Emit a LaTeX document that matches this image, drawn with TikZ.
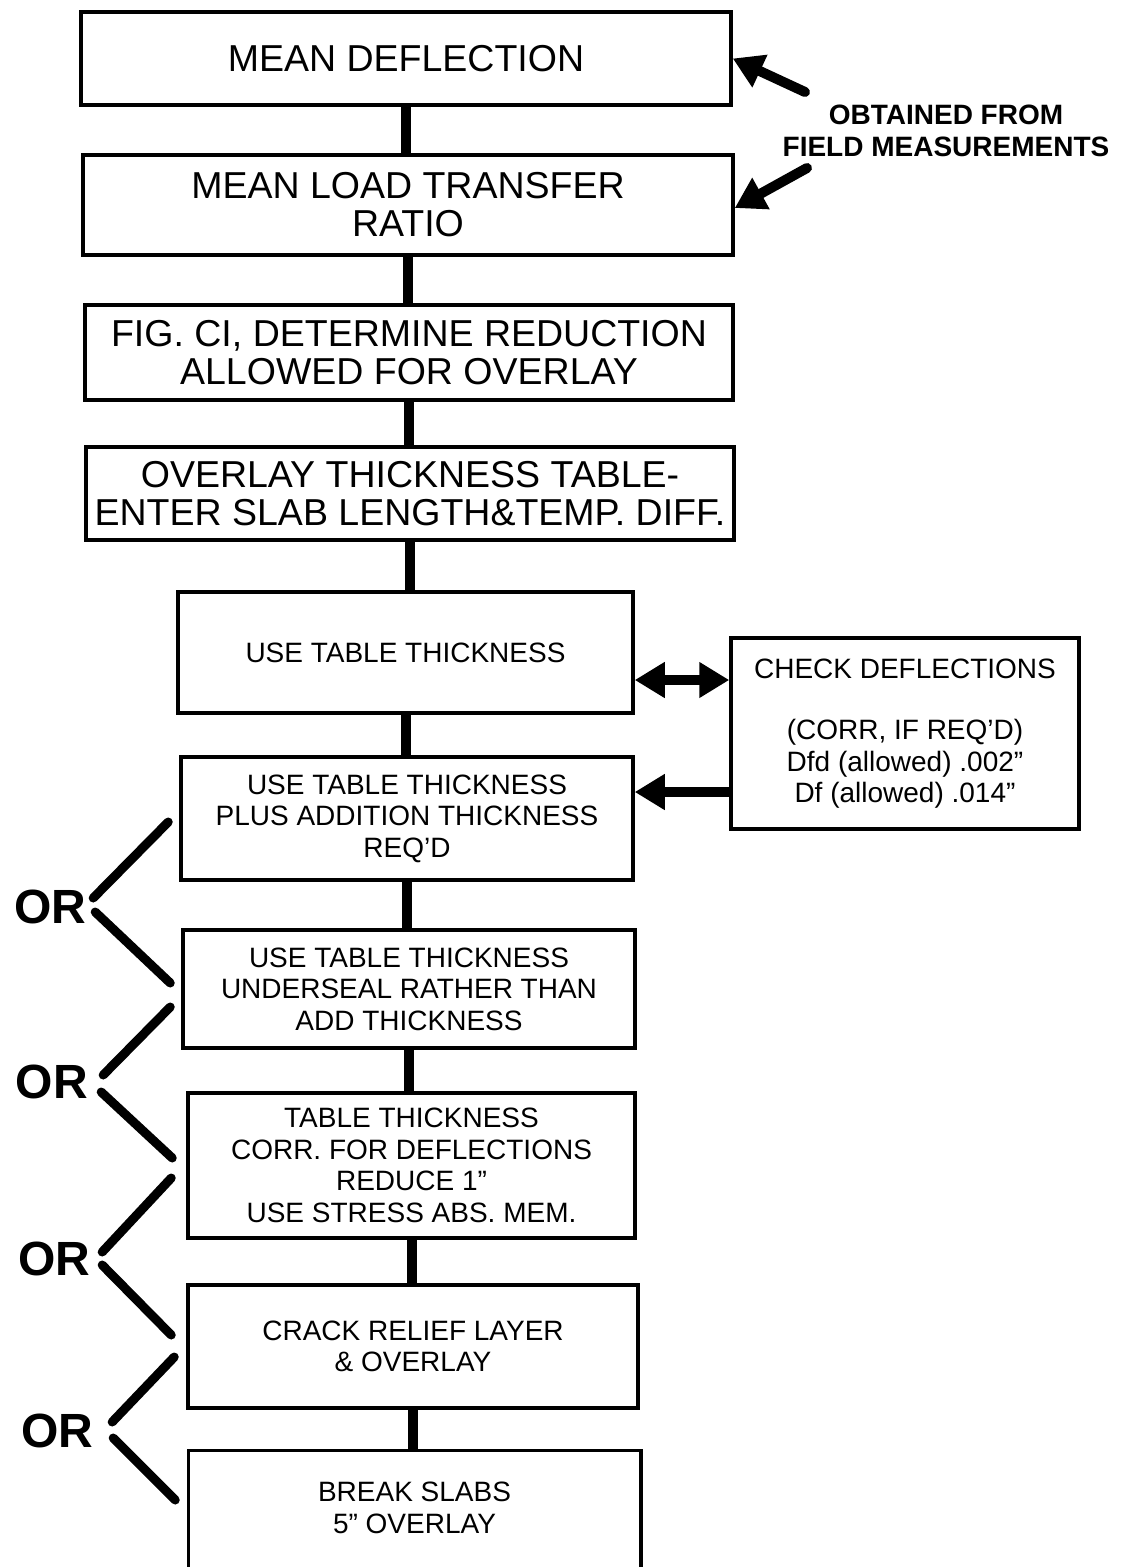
\documentclass[tikz,border=0pt]{standalone}
\usepackage{fontspec}
\setmainfont{Liberation Sans}
\usetikzlibrary{arrows.meta}

\begin{document}
\begin{tikzpicture}[x=1pt, y=-1pt]
    \tikzstyle{bigbox} = [rectangle, draw, line width=3.5pt, inner sep=0pt, align=center, font=\fontsize{37.5}{38}\selectfont]
    \tikzstyle{smallbox} = [rectangle, draw, line width=3.5pt, inner sep=0pt, align=center, font=\fontsize{28}{31.5}\selectfont]
    \tikzstyle{link} = [line width=10pt]
    \tikzstyle{arrow} = [line width=10pt, line cap=round, -{Triangle[length=30pt, width=34pt]}]
    \tikzstyle{twoway} = [line width=10pt, {Triangle[length=30pt, width=34pt]}-{Triangle[length=30pt, width=34pt]}]
    \tikzstyle{orline} = [line width=9pt, line cap=round]
    \tikzstyle{orlabel} = [inner sep=0pt, font=\fontsize{48}{48}\selectfont\bfseries]

    \useasboundingbox (0,0) rectangle (1129,1567);

    % main column
    \node [bigbox, minimum width=650pt, minimum height=93pt] (b1) at (406,58.5) {MEAN DEFLECTION};
    \node [bigbox, minimum width=650pt, minimum height=100pt] (b2) at (408,205) {MEAN LOAD TRANSFER\\RATIO};
    \node [bigbox, minimum width=648pt, minimum height=95pt] (b3) at (409,352.5) {FIG. CI, DETERMINE REDUCTION\\ALLOWED FOR OVERLAY};
    \node [bigbox, minimum width=648pt, minimum height=93pt] (b4) at (410,493.5) {OVERLAY THICKNESS TABLE-\\ENTER SLAB LENGTH\&TEMP. DIFF.};
    \node [smallbox, minimum width=455pt, minimum height=121pt] (b5) at (405.5,652.5) {USE TABLE THICKNESS};
    \node [smallbox, minimum width=452pt, minimum height=123pt] (b6) at (407,818.5) {USE TABLE THICKNESS\\PLUS ADDITION THICKNESS\\REQ'D};
    \node [smallbox, minimum width=452pt, minimum height=118pt] (b7) at (409,989) {USE TABLE THICKNESS\\UNDERSEAL RATHER THAN\\ADD THICKNESS};
    \node [smallbox, minimum width=447pt, minimum height=145pt] (b8) at (411.5,1165.5) {TABLE THICKNESS\\CORR. FOR DEFLECTIONS\\REDUCE 1''\\USE STRESS ABS. MEM.};
    \node [smallbox, minimum width=450pt, minimum height=123pt] (b9) at (413,1346.5) {CRACK RELIEF LAYER\\\& OVERLAY};
    \node [smallbox, draw=none, minimum width=449pt, minimum height=112pt] (b10) at (414.5,1508) {BREAK SLABS\\5'' OVERLAY};
    \draw [line width=3.5pt] ([yshift=-30pt]b10.south west) -- (b10.north west) -- (b10.north east) -- ([yshift=-30pt]b10.south east);

    \foreach \a/\b in {b1/b2, b2/b3, b3/b4, b4/b5, b5/b6, b6/b7, b7/b8, b8/b9, b9/b10}
        \draw [link] (\a.south) -- (\a.south |- \b.north);

    % field data
    \node [inner sep=0pt, align=center, font=\fontsize{28}{32}\selectfont\bfseries] (src) at (946,131) {OBTAINED FROM\\FIELD MEASUREMENTS};
    \coordinate (t1) at (805,92);
    \coordinate (t2) at (807,168);
    \draw [arrow] (t1) -- (b1.east);
    \draw [arrow] (t2) -- ([yshift=-3pt]b2.east);

    % deflection check
    \node [smallbox, minimum width=348pt, minimum height=191pt] (chk) at (905,733.5) {CHECK DEFLECTIONS\\[30pt](CORR, IF REQ'D)\\Dfd (allowed) .002''\\Df (allowed) .014''};
    \coordinate (d1) at (0,680);
    \coordinate (d2) at (0,792);
    \draw [twoway] (b5.east |- d1) -- (chk.west |- d1);
    \draw [line width=10pt, -{Triangle[length=30pt, width=34pt]}] (chk.west |- d2) -- (b6.east |- d2);

    % alternatives
    \node [orlabel] (or1) at (50,907) {OR};
    \node [orlabel] (or2) at (52,1082) {OR};
    \node [orlabel] (or3) at (54,1259) {OR};
    \node [orlabel] (or4) at (57,1431) {OR};
    \draw [orline] ([shift={(7,-9)}]or1.east) -- ([shift={(-11,3.5)}]b6.west);
    \draw [orline] ([shift={(9,5)}]or1.east) -- ([shift={(-11,-6)}]b7.west);
    \draw [orline] ([shift={(15,-7)}]or2.east) -- ([shift={(-11,18)}]b7.west);
    \draw [orline] ([shift={(13,10)}]or2.east) -- ([shift={(-14,-7.5)}]b8.west);
    \draw [orline] ([shift={(12,-7)}]or3.east) -- ([shift={(-15,12.5)}]b8.west);
    \draw [orline] ([shift={(12,6)}]or3.east) -- ([shift={(-15,-11.5)}]b9.west);
    \draw [orline] ([shift={(19,-9)}]or4.east) -- ([shift={(-12,10.5)}]b9.west);
    \draw [orline] ([shift={(20,7)}]or4.east) -- ([shift={(-13,-8)}]b10.west);
\end{tikzpicture}
\end{document}
